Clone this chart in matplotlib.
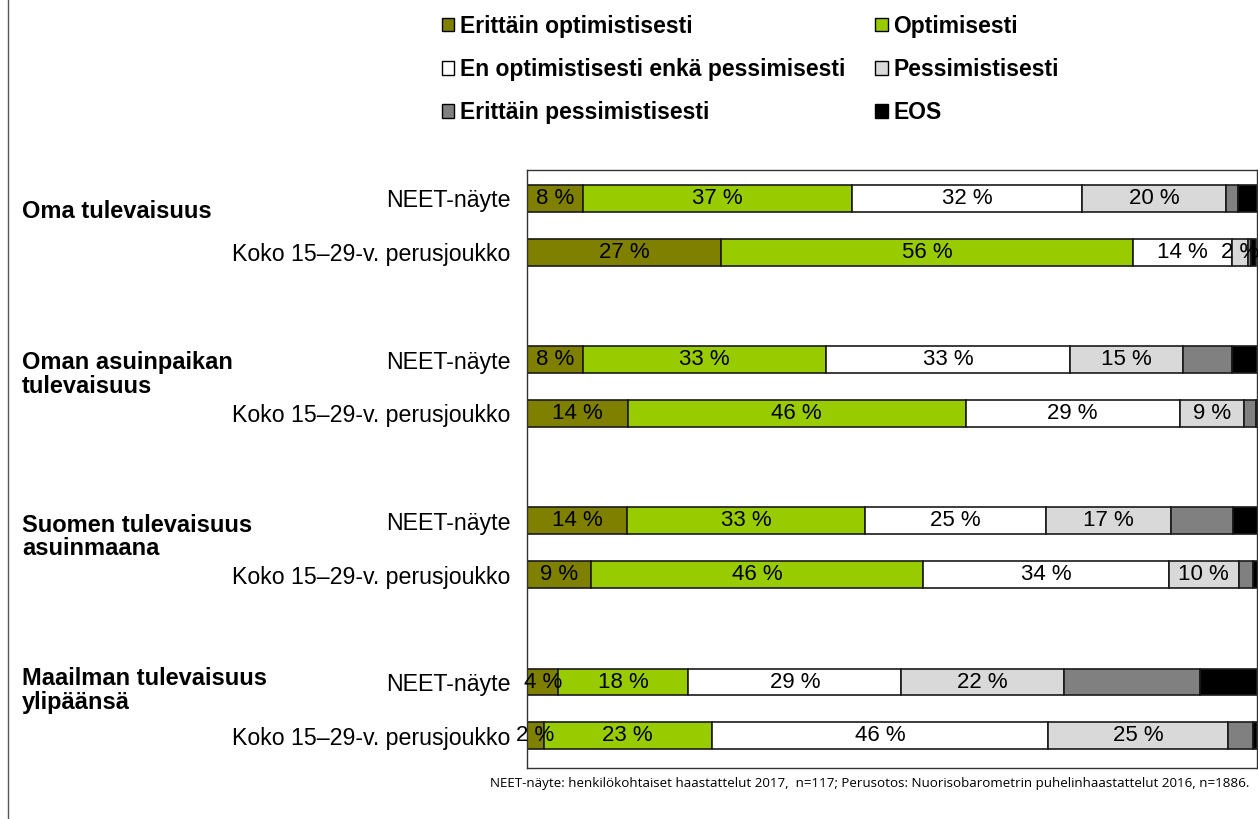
import matplotlib
matplotlib.use("Agg")
import matplotlib.pyplot as plt
from matplotlib.patches import Patch
from matplotlib.lines import Line2D
from matplotlib.transforms import blended_transform_factory

# Data (percentages)
series = ['Erittäin optimistisesti', 'Optimisesti', 'En optimistisesti enkä pessimisesti',
          'Pessimistisesti', 'Erittäin pessimistisesti', 'EOS']
colors = ['#808000', '#99CC00', '#FFFFFF', '#D9D9D9', '#808080', '#000000']

groups = ['Oma tulevaisuus', 'Oman asuinpaikan\ntulevaisuus',
          'Suomen tulevaisuus\nasuinmaana', 'Maailman tulevaisuus\nylipäänsä']
samples = ['NEET-näyte', 'Koko 15–29-v. perusjoukko']

erittain_opt = [7.7, 26.6, 7.7, 13.8, 13.7, 8.7, 4.3, 2.3]
optimisesti = [36.8, 56.4, 33.3, 46.3, 32.6, 45.6, 17.8, 23.0]
neutraali = [31.5, 13.6, 33.4, 29.3, 24.8, 33.6, 29.2, 46.1]
pessimistisesti = [19.8, 2.2, 15.4, 8.8, 17.1, 9.6, 22.2, 24.6]
erittain_pess = [1.6, 0.4, 6.8, 1.6, 8.5, 2.0, 18.7, 3.4]
eos = [2.6, 0.6, 3.4, 0.2, 3.4, 0.6, 7.8, 0.6]

values = [erittain_opt, optimisesti, neutraali, pessimistisesti, erittain_pess, eos]
labelled = [True, True, True, True, False, False]

# row positions: two bars per group, one empty row between groups
rows = [0, 1, 3, 4, 6, 7, 9, 10]

fig = plt.figure(figsize=(12.58, 8.19), dpi=100)
ax = fig.add_axes([527 / 1258, 1 - 768 / 819, 730 / 1258, (768 - 170) / 819])

left = [0.0] * len(rows)
for vals, col, lab in zip(values, colors, labelled):
    ax.barh(rows, vals, left=left, height=0.5, color=col, edgecolor='#1a1a1a', linewidth=1.2)
    if lab:
        for y, l, v in zip(rows, left, vals):
            ax.text(l + v / 2, y, f'{round(v)} %', ha='center', va='center',
                    fontsize=16, family='Liberation Sans', color='black')
    left = [l + v for l, v in zip(left, vals)]

ax.set_xlim(0, 100)
ax.set_ylim(10.6, -0.53)
ax.set_xticks([])
ax.set_yticks(rows)
ax.set_yticklabels(samples * 4, fontsize=16.7, family='Liberation Sans')
ax.tick_params(axis='y', length=0, pad=12)
for s in ax.spines.values():
    s.set_linewidth(1.0)
    s.set_color('#333333')

# group labels on the far left
trans = blended_transform_factory(fig.transFigure, ax.transData)
for g, y in zip(groups, [0.24, 3.28, 6.3, 9.15]):
    ax.text(22 / 1258, y, g, transform=trans, ha='left', va='center', fontsize=17,
            fontweight='bold', family='Liberation Sans', linespacing=1.05)

# legend
handles = [Patch(facecolor=c, edgecolor='black', linewidth=1.0) for c in colors]
order = [0, 2, 4, 1, 3, 5]
leg = fig.legend([handles[i] for i in order], [series[i] for i in order], ncol=2,
                 loc='upper left', bbox_to_anchor=(421 / 1258, 1 + 6 / 819), frameon=False,
                 prop={'family': 'Liberation Sans', 'weight': 'bold', 'size': 16.5},
                 handlelength=0.55, handleheight=0.55, handletextpad=0.25,
                 labelspacing=0.88, columnspacing=1.3)

# footnote
fig.text(1249 / 1258, 1 - 783 / 819,
         'NEET-näyte: henkilökohtaiset haastattelut 2017,  n=117; Perusotos: Nuorisobarometrin puhelinhaastattelut 2016, n=1886.',
         ha='right', va='center', fontsize=9.6, family='Open Sans')

# frame line on the left edge
fig.add_artist(Line2D([8 / 1258, 8 / 1258], [0, 1], transform=fig.transFigure, color='#555555', linewidth=1.0))

fig.savefig('out.png', dpi=100)
